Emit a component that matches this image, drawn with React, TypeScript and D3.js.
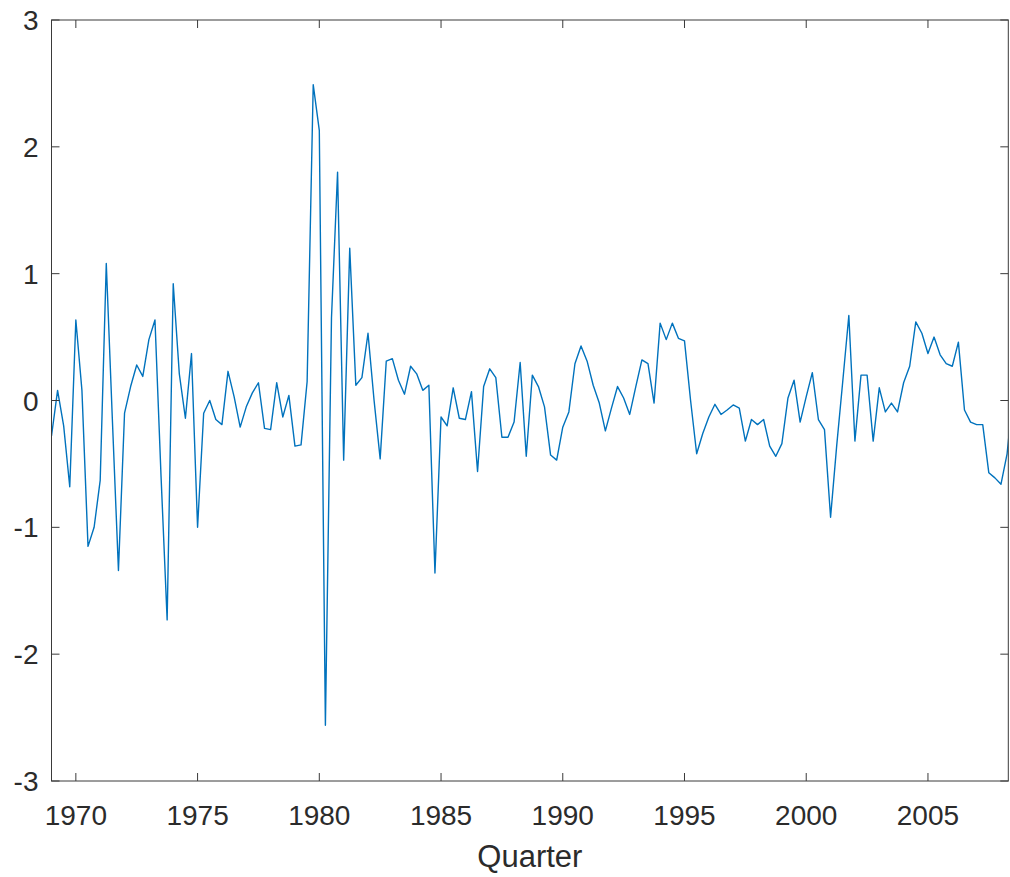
import React from "react";
import * as d3 from "d3";

// Quarterly series starting 1969 Q1
const startYear = 1969;
const values: number[] = [
  -0.28, 0.08, -0.2, -0.68, 0.635, 0.08, -1.15, -1.0, -0.63, 1.08,
  -0.15, -1.34, -0.1, 0.11, 0.28, 0.19, 0.48, 0.635, -0.6, -1.73,
  0.92, 0.21, -0.14, 0.37, -1.0, -0.1, 0.0, -0.15, -0.19, 0.23,
  0.03, -0.21, -0.05, 0.06, 0.14, -0.22, -0.23, 0.14, -0.13, 0.04,
  -0.36, -0.35, 0.15, 2.49, 2.13, -2.56, 0.65, 1.8, -0.47, 1.2,
  0.12, 0.18, 0.53, 0.0, -0.46, 0.31, 0.33, 0.16, 0.05, 0.27,
  0.21, 0.08, 0.12, -1.36, -0.13, -0.2, 0.1, -0.14, -0.15, 0.07,
  -0.56, 0.11, 0.25, 0.18, -0.29, -0.29, -0.17, 0.3, -0.44, 0.2,
  0.11, -0.05, -0.43, -0.47, -0.21, -0.09, 0.29, 0.43, 0.31, 0.12,
  -0.02, -0.24, -0.06, 0.11, 0.02, -0.11, 0.11, 0.32, 0.29, -0.02,
  0.61, 0.48, 0.61, 0.49, 0.47, 0.0, -0.42, -0.26, -0.13, -0.03,
  -0.11, -0.075, -0.035, -0.06, -0.32, -0.15, -0.19, -0.15, -0.36, -0.44,
  -0.34, 0.02, 0.16, -0.17, 0.03, 0.22, -0.15, -0.23, -0.92, -0.36,
  0.15, 0.67, -0.32, 0.2, 0.2, -0.32, 0.1, -0.09, -0.02, -0.09,
  0.14, 0.27, 0.62, 0.53, 0.37, 0.5, 0.36, 0.29, 0.27, 0.46,
  -0.075, -0.17, -0.19, -0.19, -0.57, -0.61, -0.66, -0.42, 0.05,
];
const xTicks = [1970, 1975, 1980, 1985, 1990, 1995, 2000, 2005];
const yTicks = [-3, -2, -1, 0, 1, 2, 3];
const xLabel = "Quarter";

const W = 1010;
const H = 877;
const left = 51.5;
const right = 1008.3;
const top = 20;
const bottom = 781;

export default function App() {
  const x = d3.scaleLinear().domain([1969, 2008.3]).range([left, right]);
  const y = d3.scaleLinear().domain([-3, 3]).range([bottom, top]);
  const pts = values.map((v, i) => [startYear + i * 0.25, v] as [number, number]);
  const line = d3
    .line<[number, number]>()
    .x((d) => x(d[0]))
    .y((d) => y(d[1]));
  const axisColor = "#3a3a3a";
  const textColor = "#2b2b2b";
  const font = "'Liberation Sans', Arial, Helvetica, sans-serif";
  const tl = 8;
  return (
    <svg
      width={W}
      height={H}
      style={{ position: "absolute", left: 0, top: 0, background: "#fff" }}
    >
      <defs>
        <clipPath id="plotClip">
          <rect x={left} y={top} width={right - left} height={bottom - top} />
        </clipPath>
      </defs>
      <rect x={0} y={0} width={W} height={H} fill="#fff" />
      <path
        d={line(pts) || ""}
        fill="none"
        stroke="#0072BD"
        strokeWidth={1.4}
        strokeLinejoin="round"
        clipPath="url(#plotClip)"
      />
      <rect
        x={left}
        y={top}
        width={right - left}
        height={bottom - top}
        fill="none"
        stroke={axisColor}
        strokeWidth={1}
      />
      {xTicks.map((t) => (
        <g key={"xt" + t}>
          <line x1={x(t)} x2={x(t)} y1={bottom} y2={bottom - tl} stroke={axisColor} />
          <line x1={x(t)} x2={x(t)} y1={top} y2={top + tl} stroke={axisColor} />
          <text
            x={x(t)}
            y={825}
            textAnchor="middle"
            fontFamily={font}
            fontSize={28}
            fill={textColor}
          >
            {t}
          </text>
        </g>
      ))}
      {yTicks.map((t) => (
        <g key={"yt" + t}>
          <line x1={left} x2={left + tl} y1={y(t)} y2={y(t)} stroke={axisColor} />
          <line x1={right} x2={right - tl} y1={y(t)} y2={y(t)} stroke={axisColor} />
          <text
            x={38.5}
            y={y(t) + 10}
            textAnchor="end"
            fontFamily={font}
            fontSize={28}
            fill={textColor}
          >
            {t < 0 ? "-" + Math.abs(t) : String(t)}
          </text>
        </g>
      ))}
      <text
        x={(left + right) / 2}
        y={867}
        textAnchor="middle"
        fontFamily={font}
        fontSize={31}
        fill={textColor}
      >
        {xLabel}
      </text>
    </svg>
  );
}
